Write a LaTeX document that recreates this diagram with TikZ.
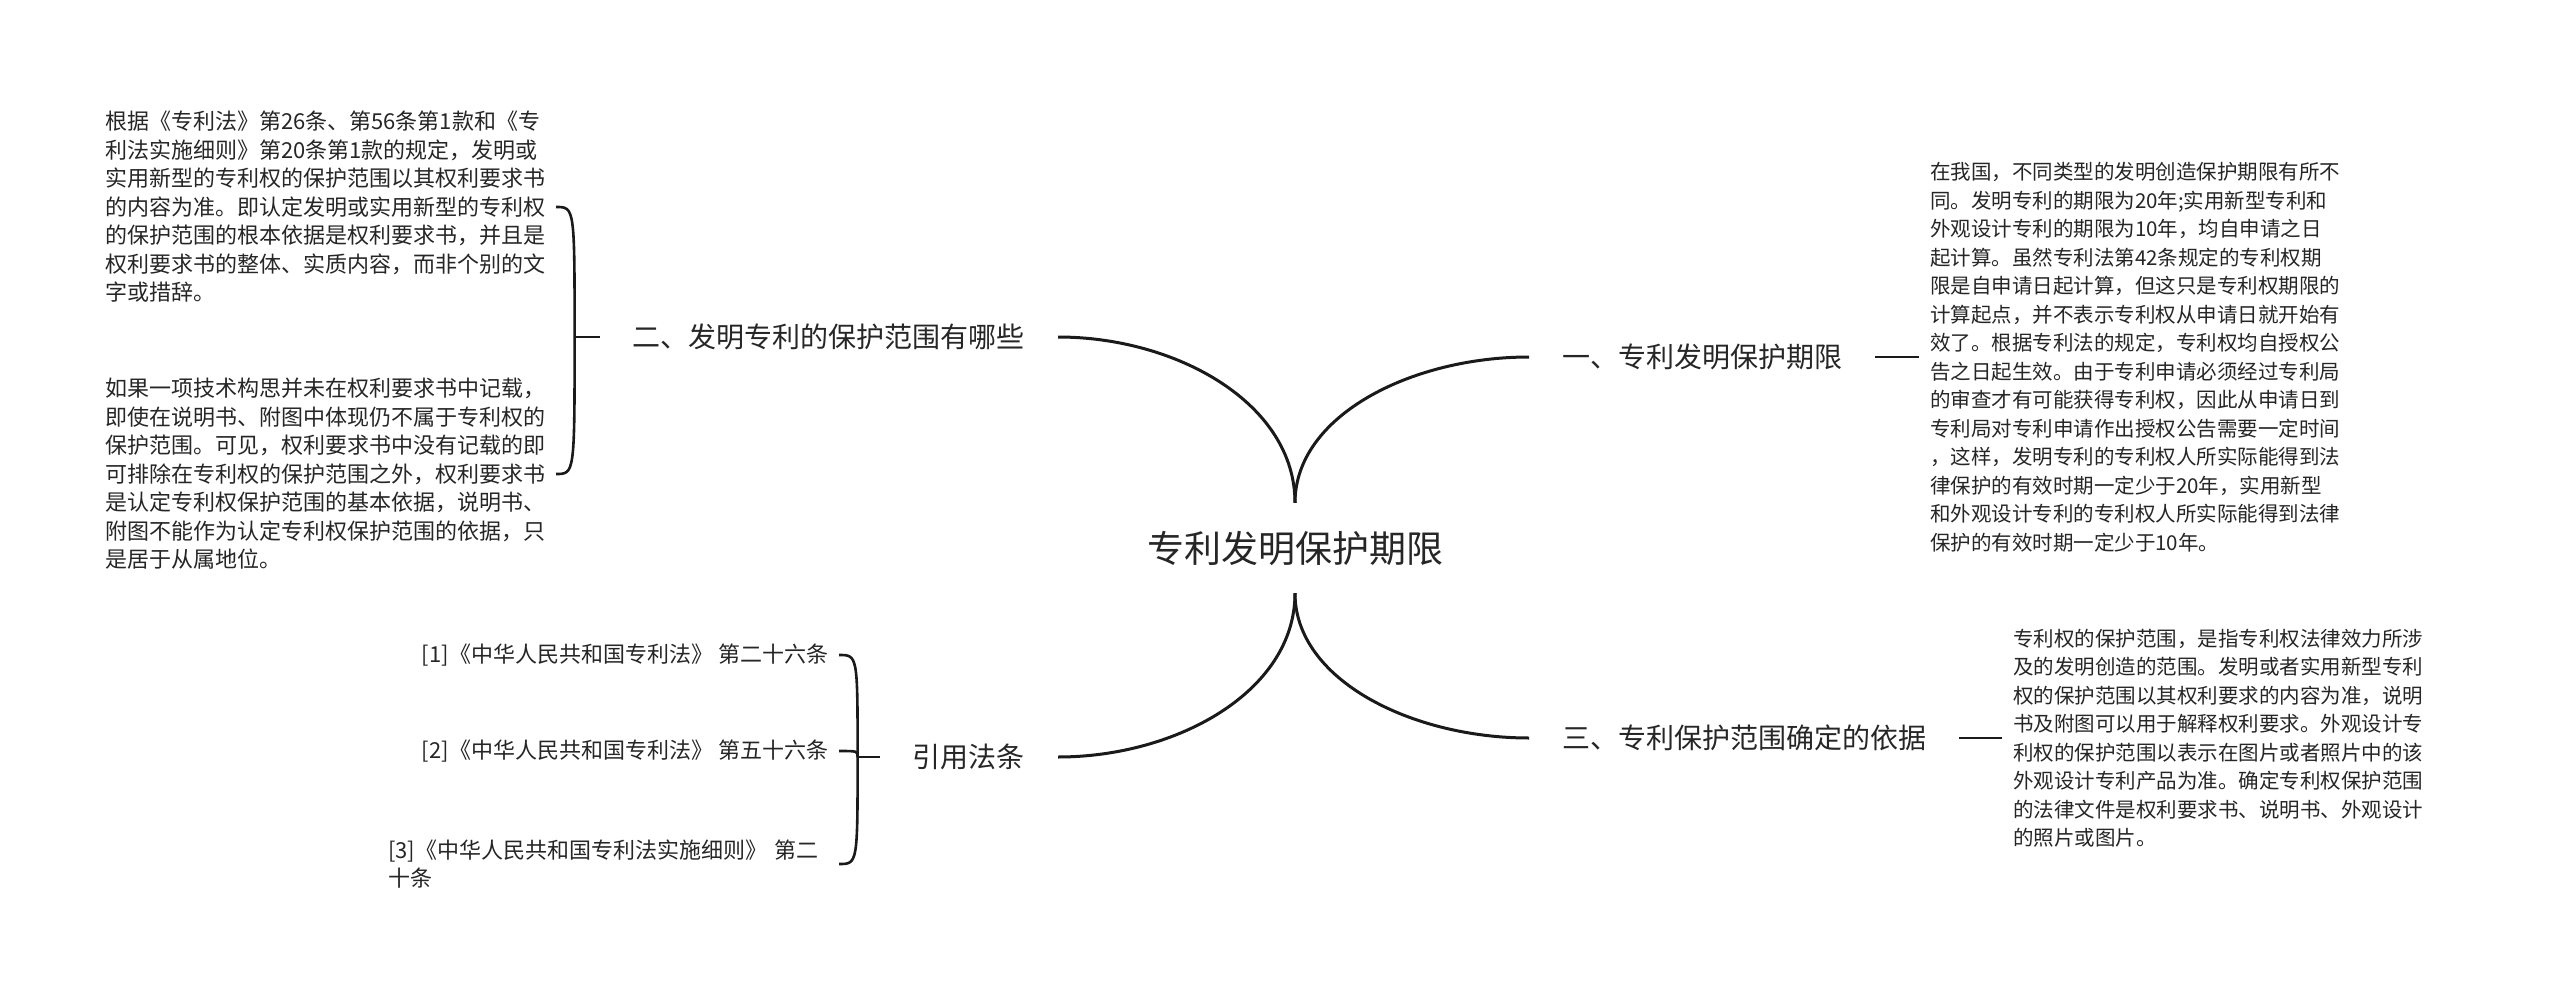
\documentclass[tikz,border=0pt]{standalone}
\usepackage{fontspec}
\setmainfont{Noto Sans CJK SC}
\usetikzlibrary{calc}
\definecolor{ink}{HTML}{262626}
\definecolor{lineclr}{HTML}{1A1A1A}

\begin{document}
\begin{tikzpicture}[x=1pt,y=-1pt,
        root/.style={inner sep=0pt, minimum height=90pt, font=\fontsize{37pt}{44pt}\selectfont, text=ink},
        branch/.style={inner xsep=33pt, inner ysep=0pt, font=\fontsize{28pt}{34pt}\selectfont, text=ink},
        leaf/.style={inner sep=0pt, outer xsep=11pt, align=left, font=\fontsize{22pt}{28.5pt}\selectfont, text=ink},
        leafr/.style={leaf, font=\fontsize{20.5pt}{28.5pt}\selectfont},
        link/.style={line width=3pt, draw=lineclr},
        bracket/.style={line width=2.6pt, draw=lineclr}
    ]

    % page
    \fill[white] (0,0) rectangle (2560,996);
    \useasboundingbox (0,0) rectangle (2560,996);

    % centre
    \node[root] (root) at (1295,548) {专利发明保护期限};

    % branches
    \node[branch, anchor=east] (b2) at (1058,337) {二、发明专利的保护范围有哪些};
    \node[branch, anchor=west] (b1) at (1529,357) {一、专利发明保护期限};
    \node[branch, anchor=west] (b3) at (1529,738) {三、专利保护范围确定的依据};
    \node[branch, anchor=east] (b4) at (1058,757) {引用法条};

    % left texts
    \node[leaf, anchor=west] (L1) at (94,207) {根据《专利法》第26条、第56条第1款和《专\\
        利法实施细则》第20条第1款的规定，发明或\\
        实用新型的专利权的保护范围以其权利要求书\\
        的内容为准。即认定发明或实用新型的专利权\\
        的保护范围的根本依据是权利要求书，并且是\\
        权利要求书的整体、实质内容，而非个别的文\\
        字或措辞。};
    \node[leaf, anchor=west] (L2) at (94,474) {如果一项技术构思并未在权利要求书中记载，\\
        即使在说明书、附图中体现仍不属于专利权的\\
        保护范围。可见，权利要求书中没有记载的即\\
        可排除在专利权的保护范围之外，权利要求书\\
        是认定专利权保护范围的基本依据，说明书、\\
        附图不能作为认定专利权保护范围的依据，只\\
        是居于从属地位。};

    % right texts
    \node[leafr, anchor=west] (R1) at (1919,357) {在我国，不同类型的发明创造保护期限有所不\\
        同。发明专利的期限为20年;实用新型专利和\\
        外观设计专利的期限为10年，均自申请之日\\
        起计算。虽然专利法第42条规定的专利权期\\
        限是自申请日起计算，但这只是专利权期限的\\
        计算起点，并不表示专利权从申请日就开始有\\
        效了。根据专利法的规定，专利权均自授权公\\
        告之日起生效。由于专利申请必须经过专利局\\
        的审查才有可能获得专利权，因此从申请日到\\
        专利局对专利申请作出授权公告需要一定时间\\
        ，这样，发明专利的专利权人所实际能得到法\\
        律保护的有效时期一定少于20年，实用新型\\
        和外观设计专利的专利权人所实际能得到法律\\
        保护的有效时期一定少于10年。};
    \node[leafr, anchor=west] (R3) at (2002,738) {专利权的保护范围，是指专利权法律效力所涉\\
        及的发明创造的范围。发明或者实用新型专利\\
        权的保护范围以其权利要求的内容为准，说明\\
        书及附图可以用于解释权利要求。外观设计专\\
        利权的保护范围以表示在图片或者照片中的该\\
        外观设计专利产品为准。确定专利权保护范围\\
        的法律文件是权利要求书、说明书、外观设计\\
        的照片或图片。};

    % cited articles
    \node[leaf, anchor=east] (I1) at (839,655) {[1]《中华人民共和国专利法》 第二十六条};
    \node[leaf, anchor=east] (I2) at (839,751) {[2]《中华人民共和国专利法》 第五十六条};
    \node[leaf, anchor=west, text width=440pt] (I3) at (377,864) {[3]《中华人民共和国专利法实施细则》 第二\\十条};

    % main curves
    \draw[link] (root.north) .. controls ($(root.north)!0.6!(root.north |- b2.east)$) and ($(b2.east)!0.5!(root.north |- b2.east)$) .. (b2.east);
    \draw[link] (root.north) .. controls ($(root.north)!0.6!(root.north |- b1.west)$) and ($(b1.west)!0.5!(root.north |- b1.west)$) .. (b1.west);
    \draw[link] (root.south) .. controls ($(root.south)!0.6!(root.south |- b4.east)$) and ($(b4.east)!0.5!(root.south |- b4.east)$) .. (b4.east);
    \draw[link] (root.south) .. controls ($(root.south)!0.6!(root.south |- b3.west)$) and ($(b3.west)!0.5!(root.south |- b3.west)$) .. (b3.west);

    % brackets
    \coordinate (b2s) at ([xshift=-25pt]b2.west);
    \draw[bracket] (b2.west) -- (b2s);
    \foreach \leafname in {L1,L2}
        \draw[bracket] (b2s) .. controls (b2s |- \leafname.east) .. (\leafname.east);

    \coordinate (b4s) at ([xshift=-22pt]b4.west);
    \draw[bracket] (b4.west) -- (b4s);
    \foreach \leafname in {I1,I2,I3}
        \draw[bracket] (b4s) .. controls (b4s |- \leafname.east) .. (\leafname.east);

    \draw[bracket] (b1.east) -- (b1.east -| R1.west);
    \draw[bracket] (b3.east) -- (b3.east -| R3.west);

\end{tikzpicture}
\end{document}
